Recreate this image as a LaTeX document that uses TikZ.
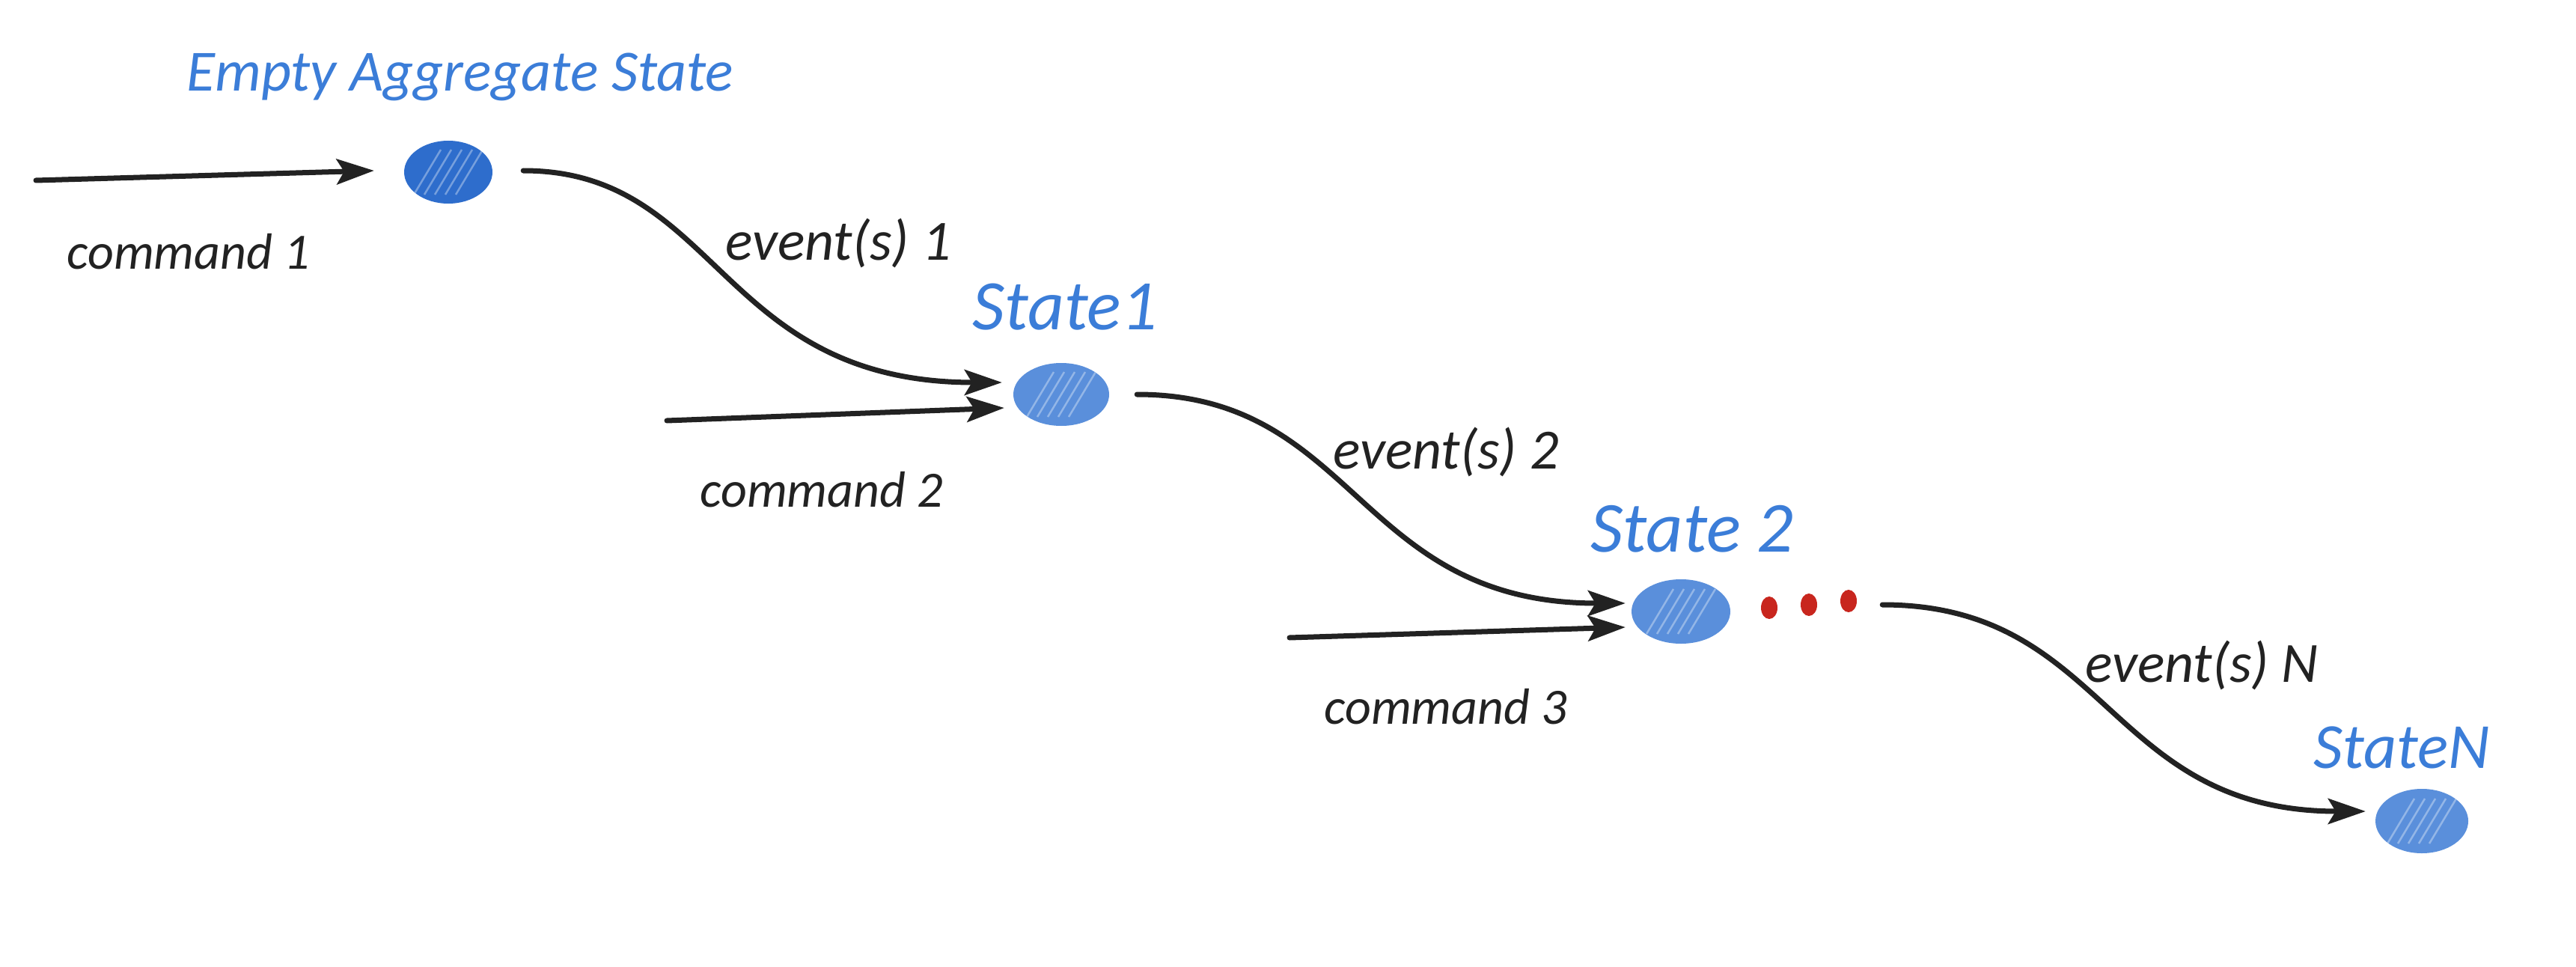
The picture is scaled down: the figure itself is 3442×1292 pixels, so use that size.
\documentclass[tikz,border=0pt]{standalone}
\usepackage{fontspec}
\setmainfont{Carlito}
\usetikzlibrary{arrows.meta,shapes.geometric,calc}
\definecolor{txtblue}{HTML}{3B7DD8}
\definecolor{darkfill}{HTML}{2E6DCC}
\definecolor{lightfill}{HTML}{5A8FDB}
\definecolor{dotred}{HTML}{C8261E}
\definecolor{ink}{HTML}{222222}
\tikzset{
  stnode/.style={ellipse, fill=lightfill, inner sep=0pt,
    path picture={\foreach \i in {-2,...,2}{\draw[white, opacity=.35, line width=2.5pt]
      ($(path picture bounding box.center)+(\i*14-18,30)$) -- ++(36,-60);}}},
  conn/.style={draw=ink, line width=7pt, line cap=round, -{Stealth[length=50pt,width=34pt,inset=10pt]}},
  lbl/.style={text=ink, inner sep=0pt},
  bluelbl/.style={text=txtblue, inner sep=0pt},
  reddot/.style={ellipse, fill=dotred, minimum width=22pt, minimum height=30pt, inner sep=0pt}
}
\begin{document}
\begin{tikzpicture}[x=1pt,y=-1pt]
\fill[white] (0,0) rectangle (3442,1292);
\useasboundingbox (0,0) rectangle (3442,1292);

% states
\node[stnode, fill=darkfill, minimum width=118pt, minimum height=84pt] (s0) at (599,230) {};
\node[stnode, minimum width=128pt, minimum height=84pt] (s1) at (1418,527) {};
\node[stnode, minimum width=132pt, minimum height=86pt] (s2) at (2246,817) {};
\node[stnode, minimum width=124pt, minimum height=86pt] (sn) at (3236,1097) {};

% dots
\node[reddot] (d1) at (2364,812) {};
\node[reddot] (d2) at (2417,808) {};
\node[reddot] (d3) at (2470,803) {};

% state labels
\node[bluelbl, font=\fontsize{78}{84}\selectfont\itshape] (t0) at (615,103) {Empty Aggregate State};
\node[bluelbl, font=\fontsize{95}{100}\selectfont\itshape] (t1) at (1423,410) {State1};
\node[bluelbl, font=\fontsize{96}{100}\selectfont\itshape] (t2) at (2261,707) {State 2};
\node[bluelbl, font=\fontsize{86}{90}\selectfont\itshape] (tn) at (3209,999) {StateN};

% command arrows
\coordinate (c1) at (48,241);
\coordinate (c2) at (891,562);
\coordinate (c3) at (1723,852);
\draw[conn] (c1) -- ($(s0.west)+(-40,-2)$);
\draw[conn] (c2) -- ($(s1.west)+(-12,18)$);
\draw[conn] (c3) -- ($(s2.west)+(-8,21)$);

% event curves
\draw[conn] ($(s0.east)+(41,-2)$) .. controls +(262,0) and +(-379,0) .. ($(s1.west)+(-15,-16)$);
\draw[conn] ($(s1.east)+(37,0)$) .. controls +(294,0) and +(-359,0) .. ($(s2.west)+(-8,-11)$);
\draw[conn] ($(d3.east)+(34,5)$) .. controls +(302,0) and +(-346,0) .. ($(sn.west)+(-13,-13)$);

% labels
\node[lbl, font=\fontsize{68}{74}\selectfont\itshape] (l1) at (252,336) {command 1};
\node[lbl, font=\fontsize{68}{74}\selectfont\itshape] (l2) at (1098,654) {command 2};
\node[lbl, font=\fontsize{68}{74}\selectfont\itshape] (l3) at (1932,944) {command 3};
\node[lbl, font=\fontsize{76}{80}\selectfont\itshape] (e1) at (1120,325) {event(s) 1};
\node[lbl, font=\fontsize{76}{80}\selectfont\itshape] (e2) at (1932,604) {event(s) 2};
\node[lbl, font=\fontsize{76}{80}\selectfont\itshape] (en) at (2942,889) {event(s) N};
\end{tikzpicture}
\end{document}
